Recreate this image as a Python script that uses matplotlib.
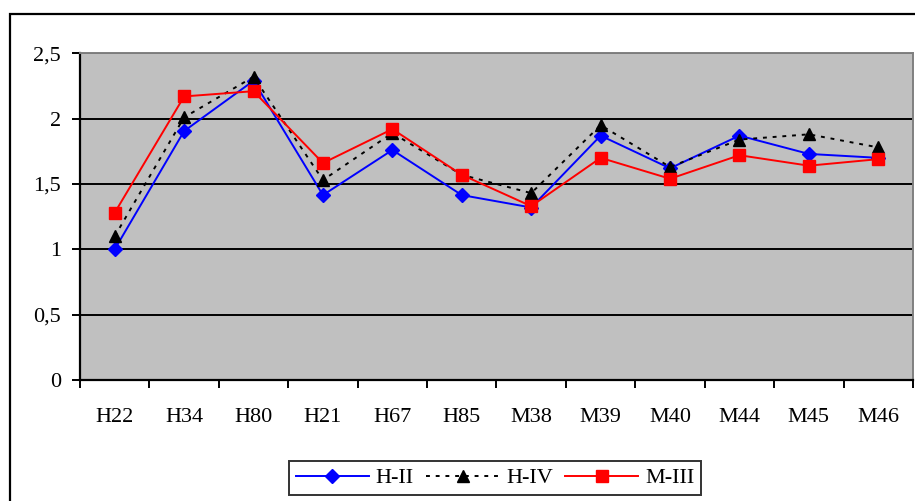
import matplotlib
matplotlib.use("Agg")
import matplotlib.pyplot as plt
from matplotlib.patches import Rectangle
from matplotlib.ticker import FixedLocator, NullFormatter, FuncFormatter

categories = ["H22", "H34", "H80", "H21", "H67", "H85", "M38", "M39", "M40", "M44", "M45", "M46"]
h_ii = [1.00, 1.905, 2.29, 1.415, 1.76, 1.415, 1.32, 1.87, 1.62, 1.87, 1.73, 1.70]
h_iv = [1.10, 2.01, 2.32, 1.53, 1.89, 1.57, 1.43, 1.95, 1.63, 1.84, 1.88, 1.78]
m_iii = [1.28, 2.17, 2.21, 1.66, 1.92, 1.57, 1.33, 1.70, 1.54, 1.72, 1.64, 1.69]
y_ticks = [0, 0.5, 1, 1.5, 2, 2.5]

plt.rcParams['font.family'] = ['Liberation Serif', 'DejaVu Serif']

W, H = 915, 501
fig = plt.figure(figsize=(W / 100, H / 100), dpi=100)

# outer chart border
fig.patches.append(Rectangle((10 / W, -0.05), 1.1, 1 - 14 / H + 0.05, transform=fig.transFigure,
                             fill=False, edgecolor='black', linewidth=1.6, zorder=0))

ax = fig.add_axes([80 / W, (H - 380) / H, 833 / W, 326.7 / H])
ax.set_facecolor('#C0C0C0')

x = list(range(len(categories)))
ax.plot(x, h_ii, color='#0000FF', linewidth=1.4, marker='D', markersize=7,
        markerfacecolor='#0000FF', markeredgecolor='#0000FF', label='H-II', zorder=3)
ax.plot(x, h_iv, color='black', linewidth=1.4, linestyle=(0, (2, 3)), marker='^', markersize=8.5,
        markerfacecolor='black', markeredgecolor='black', label='H-IV', zorder=4)
ax.plot(x, m_iii, color='#FF0000', linewidth=1.4, marker='s', markersize=8,
        markerfacecolor='#FF0000', markeredgecolor='#FF0000', label='M-III', zorder=5)

ax.set_xlim(-0.5, len(categories) - 0.5)
ax.set_ylim(0, 2.5)

ax.yaxis.set_major_locator(FixedLocator(y_ticks))
ax.yaxis.set_major_formatter(FuncFormatter(lambda v, p: ('%g' % v).replace('.', ',')))
for v in y_ticks[1:]:
    ax.axhline(v, color='black', linewidth=1.4, zorder=1)

ax.set_xticks(x)
ax.set_xticklabels(categories)
ax.xaxis.set_minor_locator(FixedLocator([i - 0.5 for i in range(len(categories) + 1)]))
ax.xaxis.set_minor_formatter(NullFormatter())
ax.tick_params(axis='x', which='major', length=0, pad=20, labelsize=16)
ax.tick_params(axis='x', which='minor', length=5.5, width=1.4, direction='out', color='black')
ax.tick_params(axis='y', length=5.8, width=1.4, direction='out', labelsize=16, pad=8)

for s in ['left', 'bottom']:
    ax.spines[s].set_color('black')
    ax.spines[s].set_linewidth(1.6)
for s in ['top', 'right']:
    ax.spines[s].set_color('#808080')
    ax.spines[s].set_linewidth(1.4)

leg = fig.legend(loc='center', bbox_to_anchor=(495 / W, 1 - 478 / H), ncol=3, frameon=True,
                 fancybox=False, edgecolor='black', fontsize=16, handlelength=3.3,
                 columnspacing=0.55, handletextpad=0.3, borderpad=0.3, borderaxespad=0)
leg.get_frame().set_linewidth(1.4)

fig.savefig('out.png', dpi=100)
